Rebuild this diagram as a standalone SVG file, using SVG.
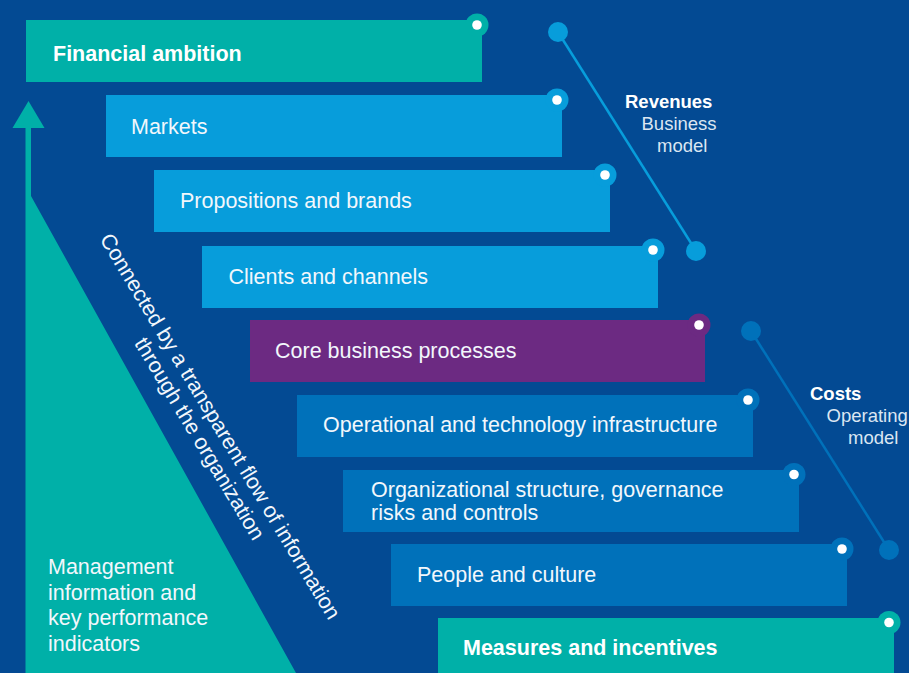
<svg xmlns="http://www.w3.org/2000/svg" width="909" height="673" viewBox="0 0 909 673">
<defs>
<style>
.t{font-family:"Liberation Sans",Arial,sans-serif;font-size:21.5px;fill:#f2f7fc}
.b{font-weight:bold;fill:#ffffff}
.s{font-family:"Liberation Sans",Arial,sans-serif;font-size:18.5px;fill:#dbe6f2}
.sb{font-weight:bold;fill:#ffffff}
.teal{fill:#00b0a8}
.lb{fill:#079ddb}
.pu{fill:#6c2a82}
.mb{fill:#0071ba}
.dot{fill:#ffffff}
</style>
</defs>
<rect width="909" height="673" fill="#034a93"/>

<g id="info-triangle">
<polygon class="teal" points="28.5,101 12.5,128 44.5,128"/>
<polygon class="teal" points="25.5,127 31,127 31,196 296,673 25.5,673"/>
<text class="t" x="48" y="574">Management</text>
<text class="t" x="48" y="599.5">information and</text>
<text class="t" x="48" y="625">key performance</text>
<text class="t" x="48" y="650.5">indicators</text>
<g transform="translate(214,430) rotate(59)">
<text class="t" text-anchor="middle" x="0" y="0">Connected by a transparent flow of information</text>
<text class="t" text-anchor="middle" x="0" y="24">through the organization</text>
</g>
</g>

<g id="connectors">
<line x1="558" y1="32" x2="696" y2="251" stroke="#079ddb" stroke-width="2.5"/>
<circle cx="558" cy="32" r="10" class="lb"/>
<circle cx="696" cy="251" r="10" class="lb"/>
<line x1="751" y1="331" x2="889" y2="550" stroke="#0071ba" stroke-width="2.5"/>
<circle cx="751" cy="331" r="10" class="mb"/>
<circle cx="889" cy="550" r="10" class="mb"/>
</g>

<g id="revenues-label">
<text class="s sb" x="625" y="108">Revenues</text>
<text class="s" x="641.5" y="130">Business</text>
<text class="s" x="657" y="152">model</text>
</g>
<g id="costs-label">
<text class="s sb" x="810" y="400">Costs</text>
<text class="s" x="826.5" y="422">Operating</text>
<text class="s" x="848" y="444">model</text>
</g>

<g id="financial-ambition">
<rect class="teal" x="26" y="20" width="456" height="62"/>
<circle class="teal" cx="477" cy="25" r="11.5"/>
<circle class="dot" cx="477" cy="25" r="4.8"/>
<text class="t b" x="53" y="61">Financial ambition</text>
</g>
<g id="markets">
<rect class="lb" x="106" y="95" width="456" height="62"/>
<circle class="lb" cx="557" cy="100" r="11.5"/>
<circle class="dot" cx="557" cy="100" r="4.8"/>
<text class="t" x="131" y="134">Markets</text>
</g>
<g id="propositions">
<rect class="lb" x="154" y="170" width="456" height="62"/>
<circle class="lb" cx="605" cy="175" r="11.5"/>
<circle class="dot" cx="605" cy="175" r="4.8"/>
<text class="t" x="180" y="208">Propositions and brands</text>
</g>
<g id="clients">
<rect class="lb" x="202" y="246" width="456" height="62"/>
<circle class="lb" cx="653" cy="250" r="11.5"/>
<circle class="dot" cx="653" cy="250" r="4.8"/>
<text class="t" x="228.5" y="283.5">Clients and channels</text>
</g>
<g id="core-processes">
<rect class="pu" x="250" y="320" width="455" height="62"/>
<circle class="pu" cx="699" cy="325" r="11.5"/>
<circle class="dot" cx="699" cy="325" r="4.8"/>
<text class="t" x="275" y="357.5">Core business processes</text>
</g>
<g id="operational">
<rect class="mb" x="297" y="395" width="456" height="62"/>
<circle class="mb" cx="748" cy="400" r="11.5"/>
<circle class="dot" cx="748" cy="400" r="4.8"/>
<text class="t" x="323" y="432">Operational and technology infrastructure</text>
</g>
<g id="organizational">
<rect class="mb" x="343" y="470" width="456" height="62"/>
<circle class="mb" cx="794" cy="474.5" r="11.5"/>
<circle class="dot" cx="794" cy="474.5" r="4.8"/>
<text class="t" x="371" y="497">Organizational structure, governance</text>
<text class="t" x="371" y="520">risks and controls</text>
</g>
<g id="people">
<rect class="mb" x="391" y="544" width="456" height="62"/>
<circle class="mb" cx="842" cy="549" r="11.5"/>
<circle class="dot" cx="842" cy="549" r="4.8"/>
<text class="t" x="417" y="582">People and culture</text>
</g>
<g id="measures">
<rect class="teal" x="438" y="618" width="456" height="62"/>
<circle class="teal" cx="889" cy="622.5" r="11.5"/>
<circle class="dot" cx="889" cy="622.5" r="4.8"/>
<text class="t b" x="463" y="655">Measures and incentives</text>
</g>
</svg>
